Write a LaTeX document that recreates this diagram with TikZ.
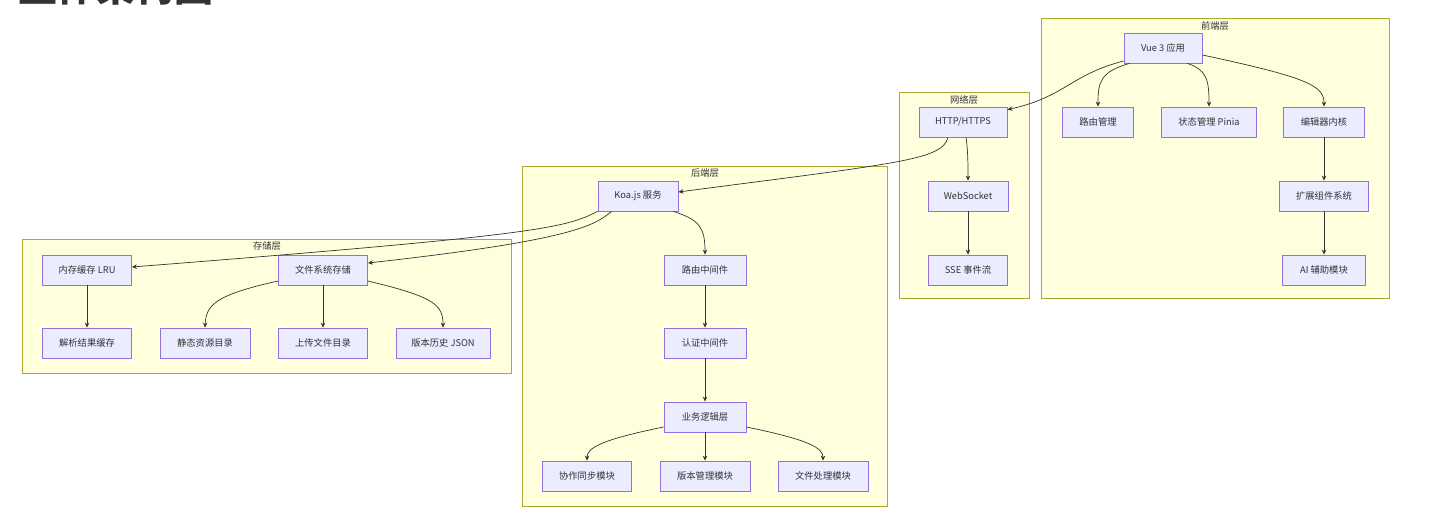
\documentclass[tikz,border=0pt]{standalone}
\usepackage{fontspec}
\setmainfont{Noto Sans CJK SC}
\usetikzlibrary{arrows.meta,calc}
\definecolor{nodefill}{HTML}{ECECFF}
\definecolor{nodeline}{HTML}{9370DB}
\definecolor{clfill}{HTML}{FFFFDE}
\definecolor{clline}{HTML}{AAAA33}
\definecolor{txt}{HTML}{333333}
\begin{document}
\begin{tikzpicture}[x=1pt,y=-1pt,
  box/.style={draw=nodeline, fill=nodefill, line width=0.8pt, minimum height=30pt, inner sep=0pt, text=txt, font=\fontsize{9.3}{11}\selectfont},
  cluster/.style={draw=clline, fill=clfill, line width=0.8pt},
  cltitle/.style={text=txt, inner sep=0pt, font=\fontsize{9.3}{11}\selectfont},
  edge/.style={draw=txt, line width=0.7pt, -{Stealth[length=5pt,width=4.5pt]}}]
\useasboundingbox (0,0) rectangle (1430,524);
\fill[white] (0,0) rectangle (1430,524);
\node[anchor=base west, inner sep=0pt, text=txt, font=\fontsize{39}{39}\selectfont\bfseries] (title) at (18,2) {整体架构图};

% clusters
\path[cluster] (1041,18) rectangle (1389,298);
\node[cltitle] (tfront) at (1215,26) {前端层};
\path[cluster] (899,92) rectangle (1029,298);
\node[cltitle] (tnet) at (964,100) {网络层};
\path[cluster] (522,166) rectangle (887,506);
\node[cltitle] (tback) at (705,173) {后端层};
\path[cluster] (22,239) rectangle (511,373);
\node[cltitle] (tstore) at (267,246) {存储层};

% frontend
\node[box, minimum width=78pt] (vue) at (1163,48) {Vue 3 应用};
\node[box, minimum width=71pt] (router) at (1098,122) {路由管理};
\node[box, minimum width=95pt] (pinia) at (1209,122) {状态管理 Pinia};
\node[box, minimum width=81pt] (editor) at (1324,122) {编辑器内核};
\node[box, minimum width=89pt] (ext) at (1324,196) {扩展组件系统};
\node[box, minimum width=83pt] (ai) at (1324,270) {AI 辅助模块};

% network
\node[box, minimum width=88pt] (http) at (963,122) {HTTP/HTTPS};
\node[box, minimum width=80pt] (ws) at (968,196) {WebSocket};
\node[box, minimum width=79pt] (sse) at (968,270) {SSE 事件流};

% backend
\node[box, minimum width=80pt] (koa) at (638,196) {Koa.js 服务};
\node[box, minimum width=82pt] (rmw) at (705,270) {路由中间件};
\node[box, minimum width=82pt] (auth) at (705,343) {认证中间件};
\node[box, minimum width=82pt] (biz) at (705,417) {业务逻辑层};
\node[box, minimum width=89pt] (collab) at (587,476) {协作同步模块};
\node[box, minimum width=90pt] (ver) at (705,476) {版本管理模块};
\node[box, minimum width=90pt] (file) at (823,476) {文件处理模块};

% storage
\node[box, minimum width=89pt] (lru) at (87,270) {内存缓存 LRU};
\node[box, minimum width=89pt] (fs) at (323,270) {文件系统存储};
\node[box, minimum width=89pt] (parse) at (87,343) {解析结果缓存};
\node[box, minimum width=90pt] (static) at (205,343) {静态资源目录};
\node[box, minimum width=89pt] (upload) at (323,343) {上传文件目录};
\node[box, minimum width=94pt] (hist) at (443,343) {版本历史 JSON};

% edges frontend
\draw[edge] ($(vue.south west)+(6,0)$) .. controls (1100,72) and (1098,82) .. (router.north);
\draw[edge] ($(vue.south east)+(-15,0)$) .. controls (1207,70) and (1209,80) .. (pinia.north);
\draw[edge] ($(vue.east)+(0,7)$) .. controls (1310,78) and (1324,86) .. (editor.north);
\draw[edge] (editor.south) -- (ext.north);
\draw[edge] (ext.south) -- (ai.north);
\draw[edge] ($(vue.west)+(0,13)$) .. controls (1070,75) and (1065,97) .. ($(http.north east)+(0,3)$);

% edges network
\draw[edge] ($(http.south)+(3,0)$) .. controls (968,150) and (968,165) .. (ws.north);
\draw[edge] (ws.south) -- (sse.north);
\draw[edge] ($(http.south)+(-15,0)$) .. controls (942,160) and (900,163) .. ($(koa.east)+(0,-4)$);

% edges backend
\draw[edge] ($(koa.south east)+(-5,0)$) .. controls (700,220) and (705,228) .. (rmw.north);
\draw[edge] (rmw.south) -- (auth.north);
\draw[edge] (auth.south) -- (biz.north);
\draw[edge] ($(biz.west)+(0,10)$) .. controls (600,440) and (587,448) .. (collab.north);
\draw[edge] (biz.south) -- (ver.north);
\draw[edge] ($(biz.east)+(0,10)$) .. controls (810,440) and (823,448) .. (file.north);
\draw[edge] (koa.south west) .. controls (565,228) and (540,235) .. ($(lru.east)+(0,-3)$);
\draw[edge] ($(koa.south west)+(14,0)$) .. controls (595,225) and (575,240) .. ($(fs.east)+(0,-7)$);

% edges storage
\draw[edge] (lru.south) -- (parse.north);
\draw[edge] ($(fs.west)+(0,11)$) .. controls (215,295) and (206,305) .. (static.north);
\draw[edge] (fs.south) -- (upload.north);
\draw[edge] ($(fs.east)+(0,11)$) .. controls (435,297) and (443,305) .. (hist.north);
\end{tikzpicture}
\end{document}
